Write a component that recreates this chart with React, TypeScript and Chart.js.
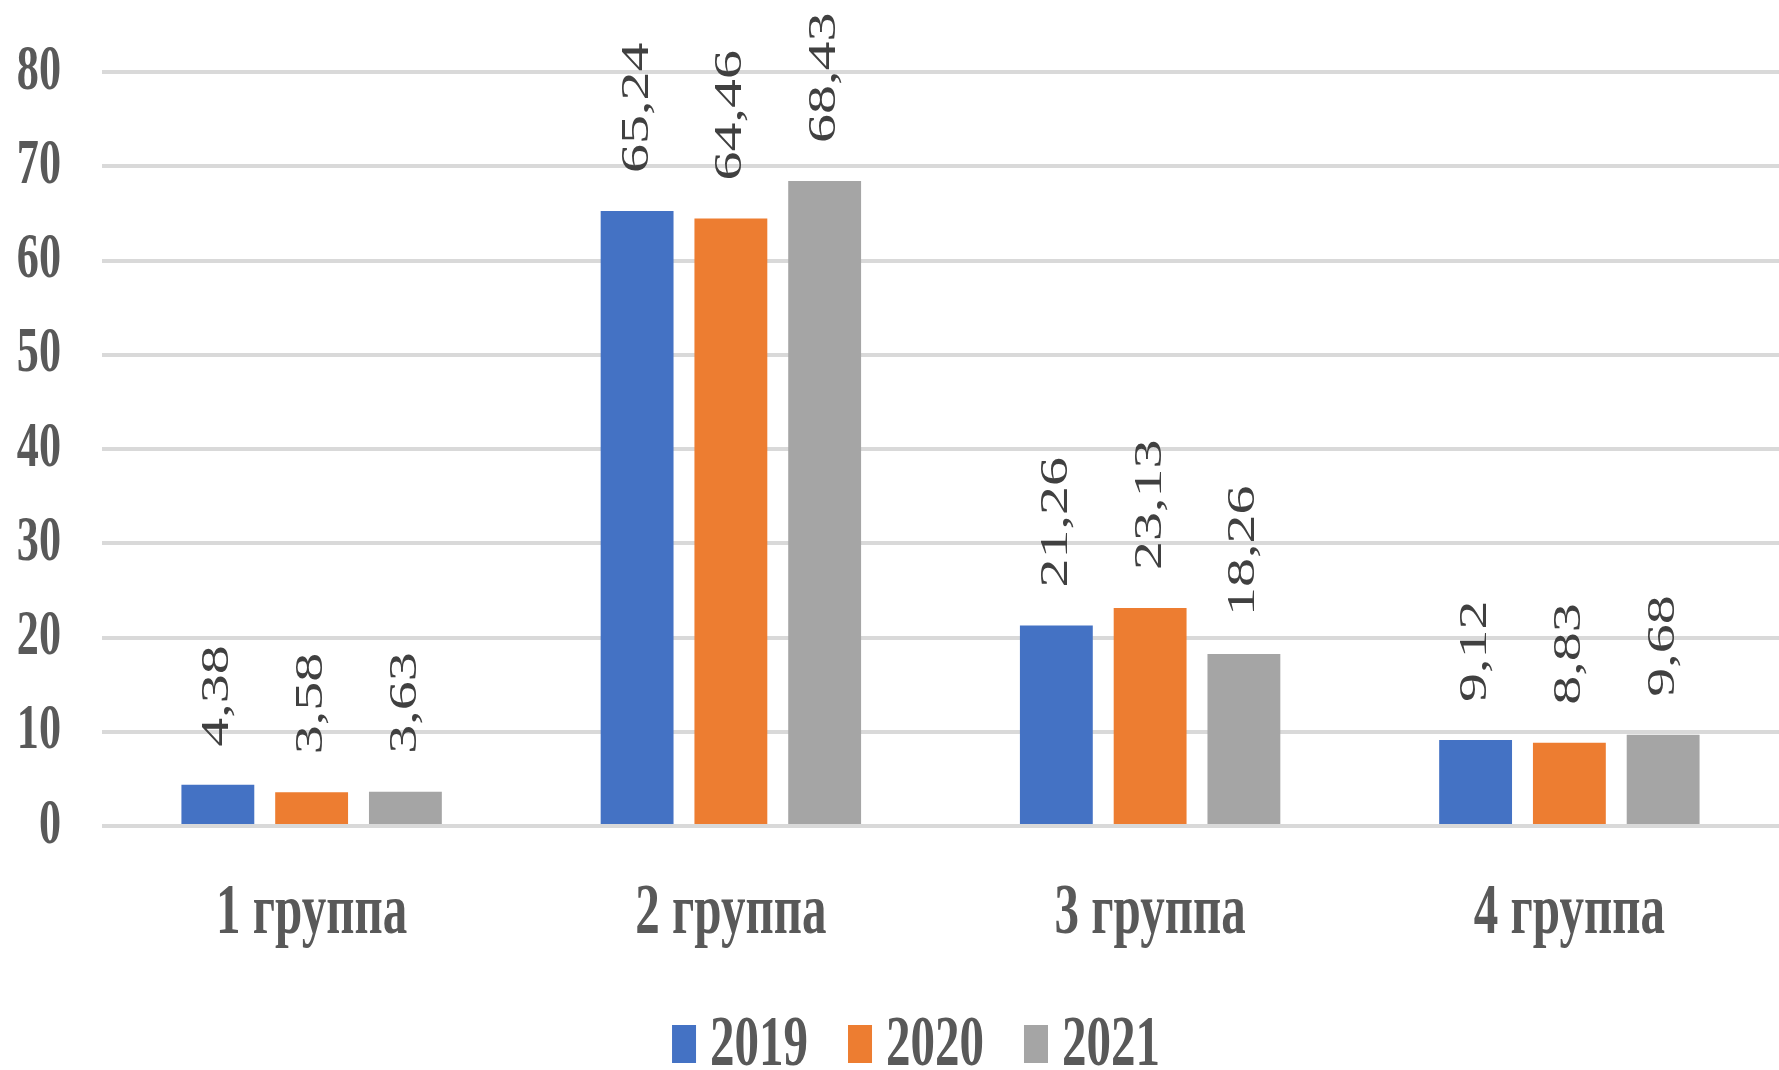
import React, { useEffect, useRef } from "react";
import { Chart, registerables } from "chart.js";

Chart.register(...registerables);

const categories = ["1 группа", "2 группа", "3 группа", "4 группа"];
const seriesLabels = ["2019", "2020", "2021"];
const values2019 = [4.38, 65.24, 21.26, 9.12];
const values2020 = [3.58, 64.46, 23.13, 8.83];
const values2021 = [3.63, 68.43, 18.26, 9.68];
const seriesColors = ["#4472C4", "#ED7D31", "#A5A5A5"];
const yTicks = [0, 10, 20, 30, 40, 50, 60, 70, 80];

const SX = 0.69;
const TEXT_COLOR = "#595959";
const LABEL_COLOR = "#404040";

function drawText(
  ctx: CanvasRenderingContext2D,
  text: string,
  x: number,
  y: number,
  font: string,
  color: string,
  align: CanvasTextAlign,
  baseline: CanvasTextBaseline,
  rotate: boolean
) {
  ctx.save();
  ctx.translate(x, y);
  ctx.scale(SX, 1);
  if (rotate) ctx.rotate(-Math.PI / 2);
  ctx.font = font;
  ctx.fillStyle = color;
  ctx.textAlign = align;
  ctx.textBaseline = baseline;
  ctx.fillText(text, 0, 0);
  ctx.restore();
}

const textPlugin = {
  id: "condensedText",
  afterDatasetsDraw(chart: any) {
    const ctx: CanvasRenderingContext2D = chart.ctx;
    const xs = chart.scales.x;
    const ys = chart.scales.y;
    const area = chart.chartArea;

    // y tick labels
    yTicks.forEach((t) => {
      drawText(ctx, String(t), 61, ys.getPixelForValue(t), "bold 64px 'Liberation Serif'", TEXT_COLOR, "right", "middle", false);
    });

    // x category labels
    categories.forEach((c, i) => {
      drawText(ctx, c, xs.getPixelForValue(i), area.bottom + 107, "bold 71px 'Liberation Serif'", TEXT_COLOR, "center", "alphabetic", false);
    });

    // data labels
    chart.data.datasets.forEach((ds: any, di: number) => {
      const meta = chart.getDatasetMeta(di);
      meta.data.forEach((bar: any, i: number) => {
        const v = ds.data[i] as number;
        const txt = v.toFixed(2).replace(".", ",");
        drawText(ctx, txt, bar.x, bar.y - 38, "58px 'Liberation Serif'", LABEL_COLOR, "left", "middle", true);
      });
    });

    // legend
    const legendFont = "bold 71px 'Liberation Serif'";
    ctx.save();
    ctx.font = legendFont;
    const boxW = 24;
    const boxH = 38;
    const gapBoxText = 14;
    const gapItems = 40;
    const widths = seriesLabels.map((l) => ctx.measureText(l).width * SX);
    ctx.restore();
    const total = widths.reduce((a, w) => a + boxW + gapBoxText + w, 0) + gapItems * (seriesLabels.length - 1);
    let x = 916 - total / 2;
    const baseY = area.bottom + 239;
    seriesLabels.forEach((l, i) => {
      ctx.save();
      ctx.fillStyle = seriesColors[i];
      ctx.fillRect(x, baseY - boxH - 2, boxW, boxH);
      ctx.restore();
      x += boxW + gapBoxText;
      drawText(ctx, l, x, baseY, legendFont, TEXT_COLOR, "left", "alphabetic", false);
      x += widths[i] + gapItems;
    });
  },
};

export default function App() {
  const canvasRef = useRef<HTMLCanvasElement | null>(null);

  useEffect(() => {
    document.body.style.margin = "0";
    const canvas = canvasRef.current;
    if (!canvas) return;
    const chart = new Chart(canvas, {
      type: "bar",
      data: {
        labels: categories,
        datasets: [
          { label: seriesLabels[0], data: values2019, backgroundColor: seriesColors[0] },
          { label: seriesLabels[1], data: values2020, backgroundColor: seriesColors[1] },
          { label: seriesLabels[2], data: values2021, backgroundColor: seriesColors[2] },
        ],
      },
      options: {
        responsive: false,
        animation: false,
        devicePixelRatio: 1,
        datasets: {
          bar: { categoryPercentage: 0.671, barPercentage: 0.777 },
        },
        layout: { padding: { left: 102, top: 72, right: 0, bottom: 244 } },
        plugins: {
          legend: { display: false },
          tooltip: { enabled: false },
        },
        scales: {
          x: {
            grid: { display: false, drawTicks: false },
            border: { display: false },
            ticks: { display: false },
          },
          y: {
            min: 0,
            max: 80,
            ticks: { display: false, stepSize: 10 },
            grid: { color: "#D9D9D9", lineWidth: 4, drawTicks: false, tickLength: 0 },
            border: { display: false },
          },
        },
      },
      plugins: [textPlugin],
    });
    return () => chart.destroy();
  }, []);

  return (
    <div style={{ width: 1779, height: 1070, background: "#fff" }}>
      <canvas ref={canvasRef} width={1779} height={1070} style={{ display: "block" }} />
    </div>
  );
}
